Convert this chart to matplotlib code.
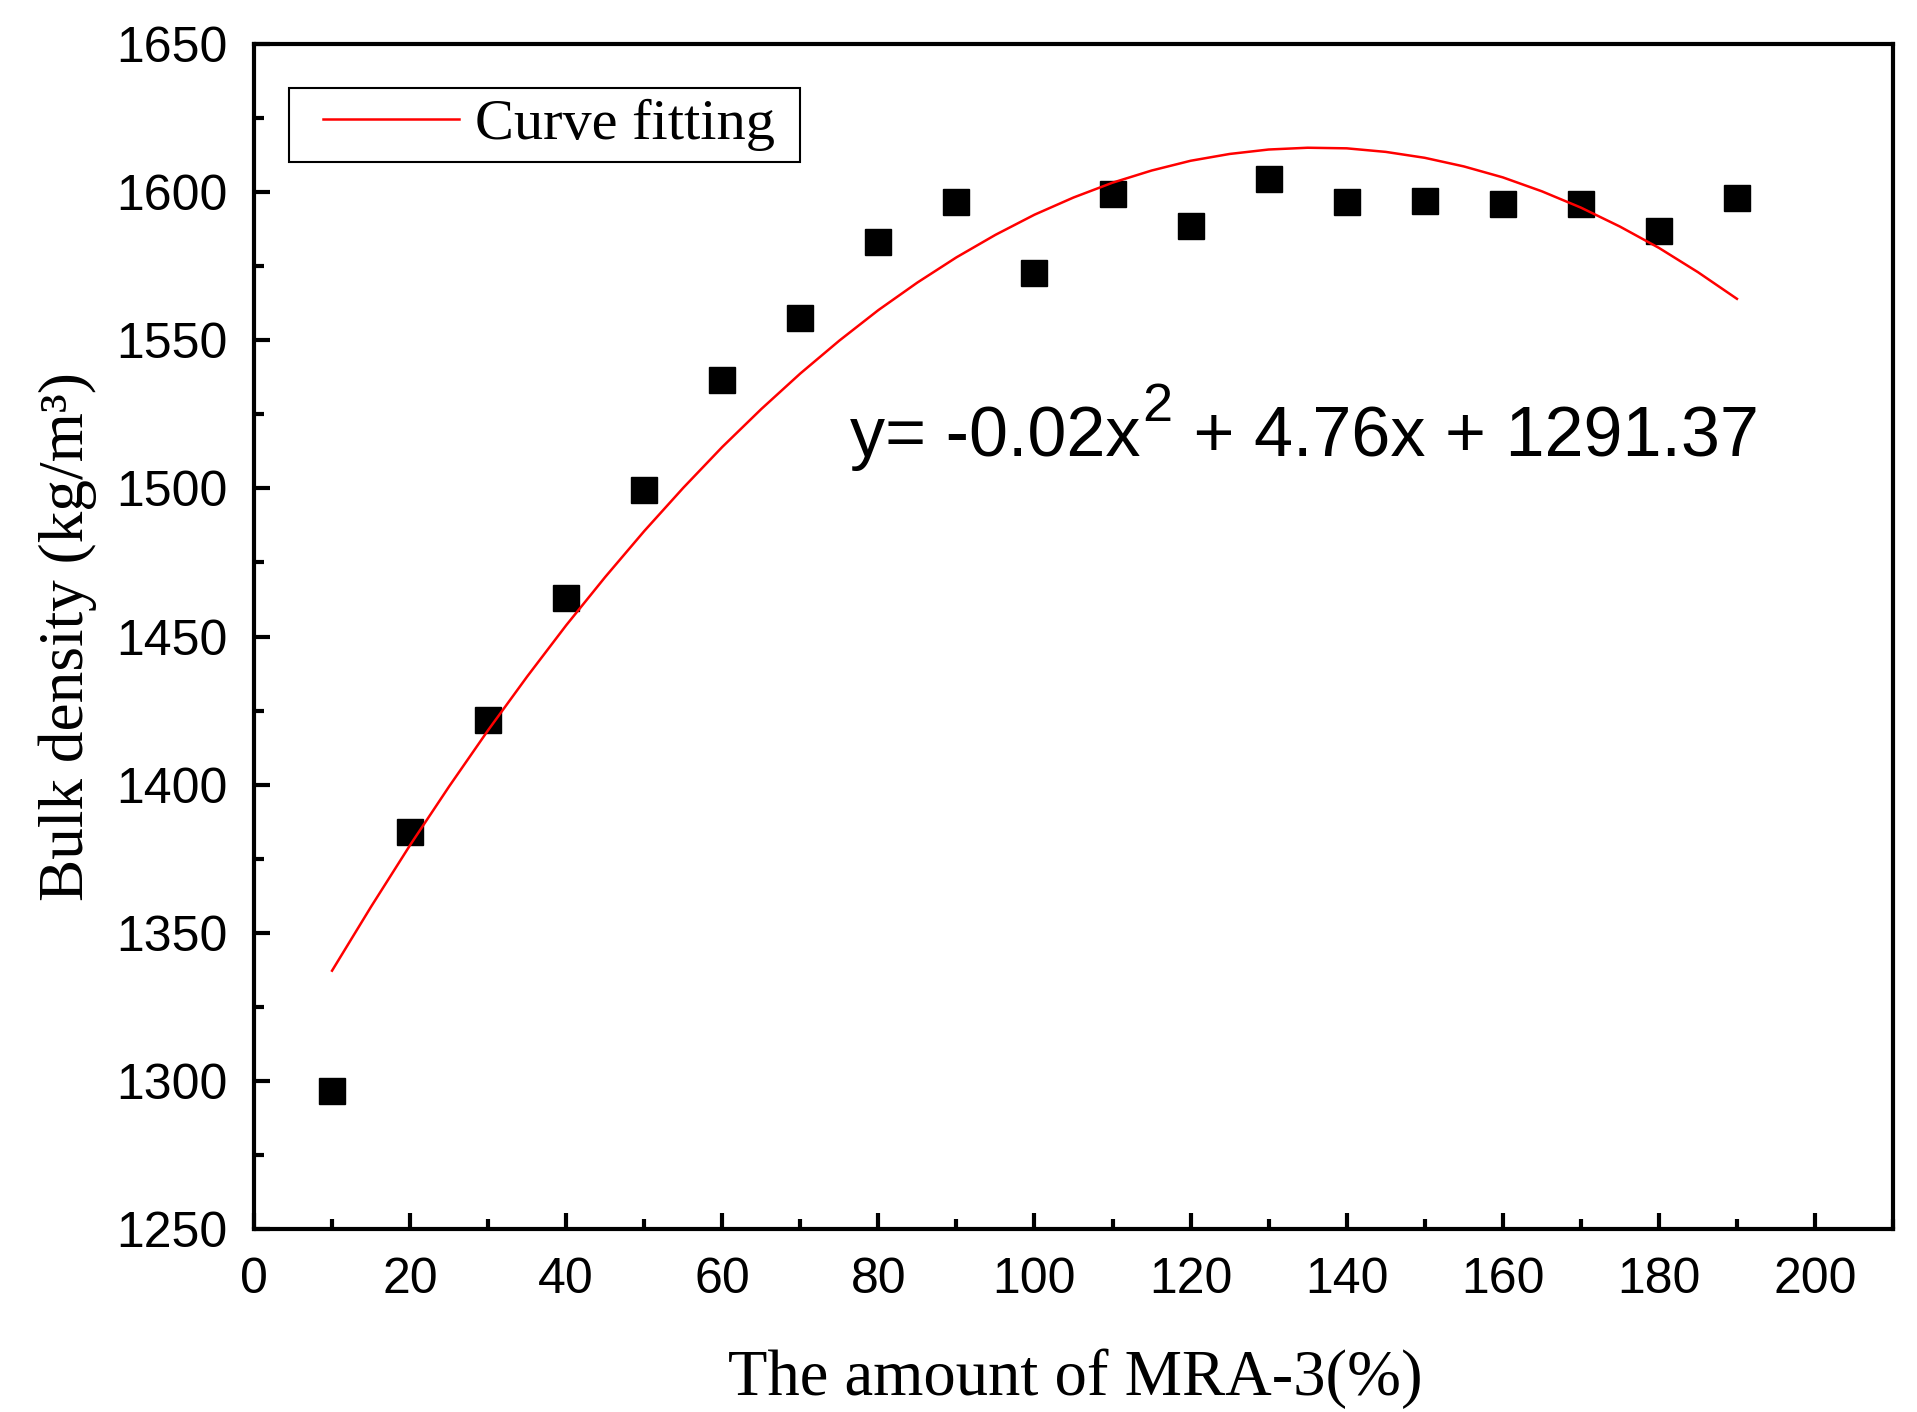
import matplotlib
matplotlib.use('Agg')
import matplotlib.pyplot as plt
from matplotlib.ticker import MultipleLocator
from matplotlib.legend_handler import HandlerLine2D

# MRA-3 amount (%) and measured bulk density (kg/m3)
amount = [10, 20, 30, 40, 50, 60, 70, 80, 90, 100,
          110, 120, 130, 140, 150, 160, 170, 180, 190]
density = [1296.5, 1384.0, 1421.8, 1462.9, 1499.4, 1536.7, 1557.5, 1583.2, 1596.7, 1572.8,
           1599.3, 1588.5, 1604.4, 1596.6, 1596.9, 1596.1, 1596.1, 1586.8, 1598.0]

# fitted curve
fit_x = [10, 15, 20, 25, 30, 35, 40, 45, 50, 55, 60, 65, 70, 75, 80, 85, 90, 95, 100,
         105, 110, 115, 120, 125, 130, 135, 140, 145, 150, 155, 160, 165, 170, 175, 180, 185, 190]
fit_y = [1337.2, 1358.8, 1379.6, 1399.4, 1418.4, 1436.5, 1453.8, 1470.1, 1485.6, 1500.2,
         1514.0, 1526.8, 1538.8, 1549.9, 1560.2, 1569.5, 1578.0, 1585.6, 1592.4,
         1598.2, 1603.2, 1607.3, 1610.6, 1612.9, 1614.4, 1615.0, 1614.8, 1613.6, 1611.6,
         1608.7, 1605.0, 1600.3, 1594.8, 1588.4, 1581.2, 1573.0, 1564.0]

fig = plt.figure(figsize=(19.17, 14.12), dpi=100)
ax = fig.add_axes([0.1325, 0.1296, 0.855, 0.8392])

ax.plot(amount, density, 's', color='black', markersize=19, linestyle='none')
ax.plot(fit_x, fit_y, color='red', linewidth=1.8, label='Curve fitting ')

ax.set_xlim(0, 210)
ax.set_ylim(1250, 1650)
ax.xaxis.set_major_locator(MultipleLocator(20))
ax.xaxis.set_minor_locator(MultipleLocator(10))
ax.yaxis.set_major_locator(MultipleLocator(50))
ax.yaxis.set_minor_locator(MultipleLocator(25))

for s in ax.spines.values():
    s.set_linewidth(3)
ax.tick_params(which='major', direction='in', length=11.5, width=3,
               top=False, right=False, labelsize=36, pad=19)
ax.tick_params(which='minor', direction='in', length=7, width=3,
               top=False, right=False)
ax.tick_params(axis='x', which='major', pad=20)
for lab in ax.get_xticklabels() + ax.get_yticklabels():
    lab.set_family('Liberation Sans')

ax.set_xlabel('The amount of MRA-3(%)', family='Liberation Serif', fontsize=46.5)
ax.set_ylabel('Bulk density (kg/m³)', family='Liberation Serif', fontsize=45.5)
ax.xaxis.set_label_coords(0.501, -0.1004)
ax.yaxis.set_label_coords(-0.0958, 0.5)

leg = ax.legend(loc='upper left', bbox_to_anchor=(0.0214, 0.9629), borderaxespad=0,
                prop={'family': 'Liberation Serif', 'size': 42},
                handlelength=3.15, handletextpad=-0.14, borderpad=0.18,
                handler_map={plt.Line2D: HandlerLine2D(marker_pad=0.41, numpoints=2)},
                fancybox=False, framealpha=1, edgecolor='black')
leg.get_frame().set_linewidth(1.5)

# fitted equation, superscript drawn as its own text
fig.canvas.draw()
r = fig.canvas.get_renderer()
eq_x, eq_y = 76.4, 1510.9
t1 = ax.text(eq_x, eq_y, 'y= -0.02x', family='Liberation Sans', fontsize=50.5,
             ha='left', va='baseline')
w1 = t1.get_window_extent(r).width
t2 = ax.annotate('2', xy=(eq_x, eq_y), xytext=(w1 + 1, 35), textcoords='offset pixels',
                 family='Liberation Sans', fontsize=39, ha='left', va='baseline')
w2 = t2.get_window_extent(r).width
ax.annotate(' + 4.76x + 1291.37', xy=(eq_x, eq_y), xytext=(w1 + 3 + w2, 0),
            textcoords='offset pixels', family='Liberation Sans', fontsize=50.5,
            ha='left', va='baseline')

fig.savefig('out.png', dpi=100)
